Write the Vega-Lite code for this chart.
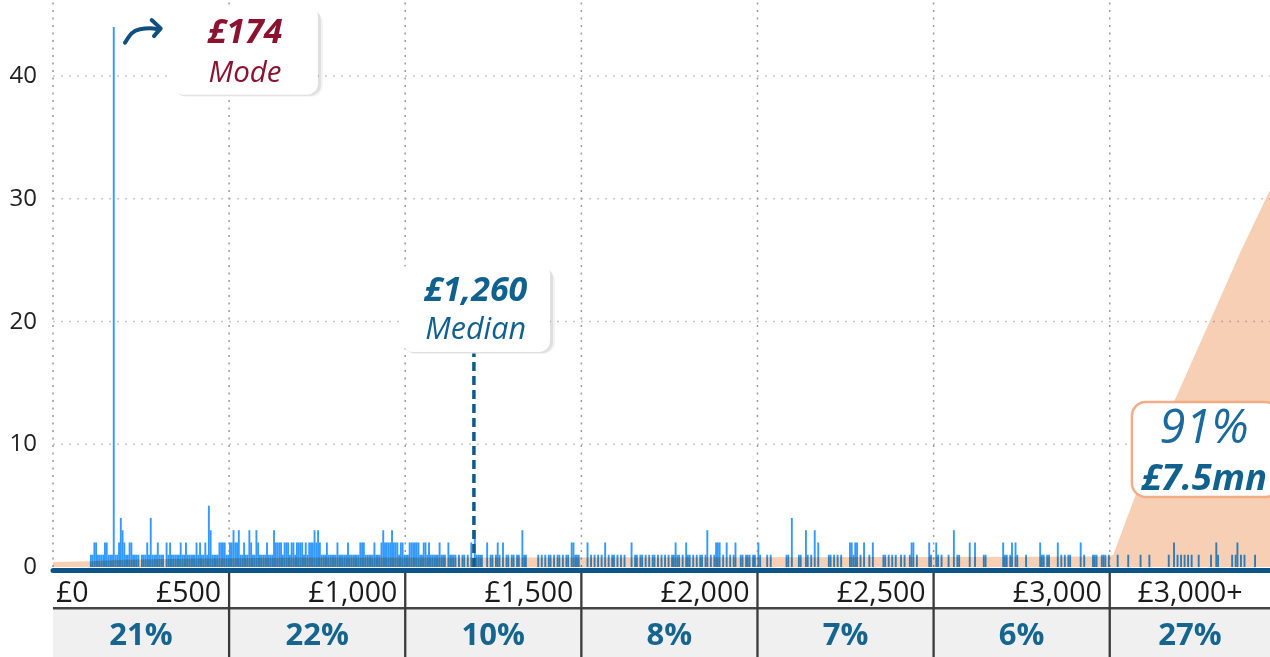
{
  "$schema": "https://vega.github.io/schema/vega-lite/v6.json",
  "width": 1270,
  "height": 657,
  "autosize": {"type": "none"},
  "padding": 0,
  "background": "white",
  "config": {"view": {"stroke": null}, "font": "Open Sans"},
  "datasets": {
    "grid": [{"g": 0}, {"g": 500}, {"g": 1000}, {"g": 1500}, {"g": 2000}, {"g": 2500}, {"g": 3000}],
    "yticks": [{"v": 0}, {"v": 10}, {"v": 20}, {"v": 30}, {"v": 40}],
    "bins": [
      {"b":105,"n":1},{"b":110,"n":1},{"b":115,"n":2},{"b":120,"n":2},{"b":125,"n":1},{"b":130,"n":1},{"b":135,"n":1},{"b":140,"n":1},{"b":145,"n":2},{"b":150,"n":2},{"b":155,"n":1},{"b":160,"n":1},{"b":165,"n":1},{"b":170,"n":44},{"b":175,"n":1},{"b":180,"n":1},{"b":185,"n":2},{"b":190,"n":4},{"b":195,"n":3},{"b":200,"n":2},{"b":205,"n":1},{"b":210,"n":1},{"b":215,"n":2},{"b":220,"n":2},{"b":225,"n":1},{"b":230,"n":1},{"b":235,"n":1},{"b":240,"n":1},{"b":250,"n":1},{"b":255,"n":1},{"b":260,"n":1},{"b":265,"n":2},{"b":270,"n":1},{"b":275,"n":4},{"b":280,"n":1},{"b":285,"n":1},{"b":290,"n":1},{"b":295,"n":2},{"b":300,"n":1},{"b":305,"n":1},{"b":310,"n":1},{"b":320,"n":2},{"b":325,"n":1},{"b":330,"n":2},{"b":335,"n":1},{"b":340,"n":1},{"b":345,"n":1},{"b":350,"n":1},{"b":355,"n":1},{"b":360,"n":2},{"b":365,"n":1},{"b":370,"n":1},{"b":375,"n":2},{"b":380,"n":1},{"b":385,"n":1},{"b":390,"n":1},{"b":395,"n":1},{"b":400,"n":1},{"b":405,"n":2},{"b":410,"n":1},{"b":415,"n":2},{"b":420,"n":1},{"b":425,"n":1},{"b":430,"n":2},{"b":435,"n":1},{"b":440,"n":5},{"b":445,"n":3},{"b":450,"n":1},{"b":455,"n":1},{"b":460,"n":1},{"b":465,"n":1},{"b":470,"n":2},{"b":475,"n":2},{"b":480,"n":2},{"b":485,"n":2},{"b":490,"n":1},{"b":495,"n":1},
      {"b":500,"n":2},{"b":505,"n":2},{"b":510,"n":3},{"b":515,"n":2},{"b":520,"n":2},{"b":525,"n":3},{"b":530,"n":1},{"b":535,"n":1},{"b":540,"n":2},{"b":545,"n":1},{"b":550,"n":1},{"b":555,"n":3},{"b":560,"n":2},{"b":565,"n":1},{"b":570,"n":1},{"b":575,"n":3},{"b":580,"n":2},{"b":585,"n":1},{"b":590,"n":1},{"b":595,"n":1},{"b":600,"n":1},{"b":605,"n":2},{"b":610,"n":1},{"b":615,"n":1},{"b":620,"n":1},{"b":625,"n":3},{"b":630,"n":2},{"b":635,"n":2},{"b":640,"n":2},{"b":645,"n":2},{"b":650,"n":1},{"b":655,"n":2},{"b":660,"n":2},{"b":665,"n":2},{"b":670,"n":1},{"b":675,"n":2},{"b":680,"n":2},{"b":685,"n":1},{"b":690,"n":2},{"b":695,"n":2},{"b":700,"n":2},{"b":705,"n":2},{"b":710,"n":1},{"b":715,"n":2},{"b":720,"n":1},{"b":725,"n":2},{"b":730,"n":2},{"b":735,"n":2},{"b":740,"n":3},{"b":745,"n":2},{"b":750,"n":3},{"b":755,"n":2},{"b":760,"n":1},{"b":765,"n":1},{"b":770,"n":1},{"b":775,"n":2},{"b":780,"n":1},{"b":785,"n":1},{"b":790,"n":1},{"b":795,"n":1},{"b":800,"n":1},{"b":805,"n":2},{"b":810,"n":1},{"b":815,"n":1},{"b":820,"n":1},{"b":825,"n":1},{"b":830,"n":1},{"b":835,"n":2},{"b":840,"n":1},{"b":845,"n":1},{"b":850,"n":1},{"b":855,"n":1},{"b":860,"n":1},{"b":865,"n":1},{"b":870,"n":2},{"b":875,"n":2},{"b":880,"n":2},{"b":885,"n":1},{"b":890,"n":1},{"b":895,"n":1},{"b":900,"n":1},{"b":905,"n":1},{"b":910,"n":2},{"b":915,"n":1},{"b":920,"n":1},{"b":925,"n":1},{"b":930,"n":2},{"b":935,"n":3},{"b":940,"n":2},{"b":945,"n":2},{"b":950,"n":2},{"b":955,"n":2},{"b":960,"n":3},{"b":965,"n":2},{"b":970,"n":2},{"b":975,"n":2},{"b":980,"n":1},{"b":985,"n":2},{"b":990,"n":2},{"b":995,"n":1},
      {"b":1000,"n":1},{"b":1005,"n":1},{"b":1010,"n":2},{"b":1015,"n":2},{"b":1020,"n":2},{"b":1025,"n":2},{"b":1030,"n":2},{"b":1035,"n":2},{"b":1040,"n":1},{"b":1045,"n":1},{"b":1050,"n":2},{"b":1055,"n":2},{"b":1060,"n":1},{"b":1065,"n":2},{"b":1070,"n":1},{"b":1075,"n":1},{"b":1080,"n":1},{"b":1085,"n":1},{"b":1090,"n":1},{"b":1095,"n":2},{"b":1100,"n":1},{"b":1105,"n":1},{"b":1110,"n":1},{"b":1120,"n":2},{"b":1125,"n":1},{"b":1130,"n":1},{"b":1135,"n":1},{"b":1140,"n":1},{"b":1150,"n":1},{"b":1160,"n":1},{"b":1165,"n":1},{"b":1175,"n":1},{"b":1185,"n":2},{"b":1195,"n":3},{"b":1200,"n":1},{"b":1205,"n":1},{"b":1210,"n":1},{"b":1215,"n":1},{"b":1230,"n":2},{"b":1240,"n":1},{"b":1245,"n":1},{"b":1255,"n":1},{"b":1260,"n":2},{"b":1265,"n":1},{"b":1275,"n":2},{"b":1285,"n":1},{"b":1290,"n":1},{"b":1300,"n":1},{"b":1305,"n":1},{"b":1315,"n":1},{"b":1320,"n":1},{"b":1330,"n":3},{"b":1335,"n":1},{"b":1340,"n":1},{"b":1375,"n":1},{"b":1385,"n":1},{"b":1395,"n":1},{"b":1405,"n":1},{"b":1410,"n":1},{"b":1420,"n":1},{"b":1430,"n":1},{"b":1435,"n":1},{"b":1445,"n":1},{"b":1455,"n":1},{"b":1460,"n":1},{"b":1470,"n":2},{"b":1475,"n":2},{"b":1480,"n":1},{"b":1485,"n":1},{"b":1490,"n":1},
      {"b":1515,"n":2},{"b":1525,"n":1},{"b":1535,"n":1},{"b":1545,"n":1},{"b":1555,"n":1},{"b":1565,"n":2},{"b":1575,"n":1},{"b":1585,"n":1},{"b":1590,"n":1},{"b":1600,"n":1},{"b":1610,"n":1},{"b":1620,"n":1},{"b":1640,"n":2},{"b":1650,"n":1},{"b":1655,"n":1},{"b":1665,"n":1},{"b":1670,"n":1},{"b":1680,"n":1},{"b":1690,"n":1},{"b":1700,"n":1},{"b":1705,"n":1},{"b":1715,"n":1},{"b":1725,"n":1},{"b":1735,"n":1},{"b":1745,"n":1},{"b":1755,"n":1},{"b":1760,"n":1},{"b":1765,"n":2},{"b":1770,"n":1},{"b":1775,"n":1},{"b":1785,"n":1},{"b":1795,"n":2},{"b":1800,"n":1},{"b":1805,"n":1},{"b":1815,"n":1},{"b":1825,"n":1},{"b":1835,"n":1},{"b":1840,"n":1},{"b":1850,"n":1},{"b":1855,"n":3},{"b":1865,"n":1},{"b":1875,"n":1},{"b":1880,"n":2},{"b":1885,"n":2},{"b":1890,"n":2},{"b":1900,"n":1},{"b":1910,"n":2},{"b":1920,"n":1},{"b":1930,"n":1},{"b":1935,"n":2},{"b":1950,"n":1},{"b":1955,"n":1},{"b":1965,"n":1},{"b":1970,"n":1},{"b":1975,"n":1},{"b":1985,"n":1},{"b":1990,"n":1},
      {"b":2000,"n":2},{"b":2005,"n":1},{"b":2025,"n":1},{"b":2035,"n":1},{"b":2080,"n":1},{"b":2085,"n":1},{"b":2095,"n":4},{"b":2115,"n":1},{"b":2120,"n":1},{"b":2135,"n":3},{"b":2140,"n":1},{"b":2150,"n":1},{"b":2160,"n":3},{"b":2170,"n":2},{"b":2200,"n":1},{"b":2205,"n":1},{"b":2215,"n":1},{"b":2225,"n":1},{"b":2235,"n":1},{"b":2260,"n":2},{"b":2265,"n":2},{"b":2270,"n":1},{"b":2275,"n":2},{"b":2280,"n":2},{"b":2290,"n":1},{"b":2300,"n":2},{"b":2315,"n":1},{"b":2325,"n":2},{"b":2355,"n":1},{"b":2360,"n":1},{"b":2370,"n":1},{"b":2380,"n":1},{"b":2390,"n":1},{"b":2405,"n":1},{"b":2415,"n":1},{"b":2430,"n":1},{"b":2435,"n":2},{"b":2440,"n":2},{"b":2450,"n":1},{"b":2485,"n":2},{"b":2490,"n":1},
      {"b":2505,"n":2},{"b":2510,"n":1},{"b":2520,"n":1},{"b":2540,"n":1},{"b":2555,"n":3},{"b":2565,"n":1},{"b":2570,"n":1},{"b":2600,"n":2},{"b":2615,"n":2},{"b":2640,"n":1},{"b":2645,"n":1},{"b":2695,"n":2},{"b":2700,"n":1},{"b":2705,"n":1},{"b":2715,"n":1},{"b":2720,"n":2},{"b":2730,"n":2},{"b":2735,"n":1},{"b":2760,"n":1},{"b":2800,"n":2},{"b":2805,"n":1},{"b":2810,"n":1},{"b":2820,"n":1},{"b":2825,"n":1},{"b":2850,"n":2},{"b":2860,"n":1},{"b":2870,"n":1},{"b":2880,"n":1},{"b":2885,"n":1},{"b":2915,"n":2},{"b":2925,"n":1},{"b":2950,"n":1},{"b":2955,"n":1},{"b":2960,"n":1},{"b":2975,"n":1},{"b":2980,"n":1},{"b":2985,"n":1},{"b":2995,"n":1},
      {"b":3020,"n":1},{"b":3050,"n":1},{"b":3085,"n":1},{"b":3110,"n":1},{"b":3165,"n":1},{"b":3180,"n":2},{"b":3190,"n":1},{"b":3200,"n":1},{"b":3210,"n":1},{"b":3220,"n":1},{"b":3230,"n":1},{"b":3250,"n":1},{"b":3285,"n":1},{"b":3300,"n":2},{"b":3305,"n":1},{"b":3345,"n":1},{"b":3355,"n":1},{"b":3360,"n":2},{"b":3370,"n":1},{"b":3380,"n":1},{"b":3410,"n":1}
    ],
    "share": [
      {"m": 0, "v": 0.42}, {"m": 100, "v": 0.48}, {"m": 200, "v": 0.6}, {"m": 400, "v": 0.7}, {"m": 700, "v": 0.77}, {"m": 1000, "v": 0.78}, {"m": 2000, "v": 0.8}, {"m": 2995, "v": 0.86},
      {"m": 3010, "v": 1.0}, {"m": 3074, "v": 5.9}, {"m": 3180, "v": 13.3}, {"m": 3284, "v": 20.0}, {"m": 3370, "v": 25.6}, {"m": 3443, "v": 30.0}, {"m": 3455, "v": 30.7}
    ],
    "labels": [
      {"t": "£0", "x": 0, "k": "left"},
      {"t": "£500", "x": 500, "k": "right"},
      {"t": "£1,000", "x": 1000, "k": "right"},
      {"t": "£1,500", "x": 1500, "k": "right"},
      {"t": "£2,000", "x": 2000, "k": "right"},
      {"t": "£2,500", "x": 2500, "k": "right"},
      {"t": "£3,000", "x": 3000, "k": "right"},
      {"t": "£3,000+", "x": 3228, "k": "center"}
    ],
    "pct": [
      {"p": "21%", "c": 250}, {"p": "22%", "c": 750}, {"p": "10%", "c": 1250}, {"p": "8%", "c": 1750},
      {"p": "7%", "c": 2250}, {"p": "6%", "c": 2750}, {"p": "27%", "c": 3228}
    ],
    "boxes": [
      {"k": "mode", "x1": 338, "x2": 752, "y1": 38.47, "y2": 45.8},
      {"k": "median", "x1": 991, "x2": 1411, "y1": 17.52, "y2": 24.78}
    ],
    "sharebox": [{"x1": 3063, "x2": 3480, "y1": 5.7, "y2": 13.45}],
    "notes": [
      {"t": "£174", "x": 545, "y": 42.72, "k": "modeval"},
      {"t": "Mode", "x": 545, "y": 39.5, "k": "modelab"},
      {"t": "£1,260", "x": 1200, "y": 21.66, "k": "medval"},
      {"t": "Median", "x": 1200, "y": 18.6, "k": "medlab"},
      {"t": "91%", "x": 3268, "y": 10.08, "k": "sharepct"},
      {"t": "£7.5mn", "x": 3268, "y": 6.28, "k": "shareval"}
    ],
    "median": [{"m": 1195, "bot": 0, "top": 17.4}],
    "band": [{"a": 0, "b": 3455}],
    "arrow": [
      {"s": "curve", "o": 1, "x": 204.4, "y": 42.72},
      {"s": "curve", "o": 2, "x": 223.4, "y": 43.48},
      {"s": "curve", "o": 3, "x": 247.0, "y": 43.81},
      {"s": "curve", "o": 4, "x": 275.4, "y": 43.89},
      {"s": "curve", "o": 5, "x": 298.9, "y": 43.81},
      {"s": "head", "o": 1, "x": 280.2, "y": 44.57},
      {"s": "head", "o": 2, "x": 305.8, "y": 43.89},
      {"s": "head", "o": 3, "x": 286.7, "y": 43.26}
    ]
  },
  "layer": [
    {
      "data": {"name": "yticks"},
      "transform": [{"filter": "datum.v > 0"}],
      "mark": {"type": "rule", "color": "#c8c8c8", "strokeDash": [2, 6], "strokeWidth": 1.5},
      "encoding": {
        "x": {"datum": 0, "type": "quantitative", "scale": {"domain": [-150.4, 3455], "nice": false, "zero": false, "padding": 0}, "axis": null},
        "x2": {"datum": 3455},
        "y": {"field": "v", "type": "quantitative", "scale": {"domain": [-7.33, 46.2], "nice": false, "zero": false, "padding": 0}, "axis": null}
      }
    },
    {
      "data": {"name": "yticks"},
      "mark": {"type": "text", "align": "right", "baseline": "middle", "dx": -16, "fontSize": 24, "color": "#222222", "font": "Open Sans"},
      "encoding": {
        "x": {"datum": 0, "type": "quantitative", "axis": null},
        "y": {"field": "v", "type": "quantitative", "axis": null},
        "text": {"field": "v", "type": "quantitative"}
      }
    },
    {
      "data": {"name": "grid"},
      "mark": {"type": "rule", "color": "#9a9a9a", "strokeDash": [2, 5.5], "strokeWidth": 1.5},
      "encoding": {
        "x": {"field": "g", "type": "quantitative", "axis": null},
        "y": {"datum": 0, "type": "quantitative", "axis": null},
        "y2": {"datum": 46.2}
      }
    },
    {
      "data": {"name": "bins"},
      "mark": {"type": "bar", "color": "#3399ff", "width": 1.9, "xOffset": 0.9},
      "encoding": {
        "x": {"field": "b", "type": "quantitative", "axis": null},
        "y": {"field": "n", "type": "quantitative", "axis": null}
      }
    },
    {
      "data": {"name": "share"},
      "mark": {"type": "area", "color": "#f7cfb4", "blend": "multiply", "opacity": 1},
      "encoding": {
        "x": {"field": "m", "type": "quantitative", "axis": null},
        "y": {"field": "v", "type": "quantitative", "axis": null}
      }
    },
    {
      "data": {"name": "band"},
      "mark": {"type": "rect", "color": "#f0f0f0"},
      "encoding": {
        "x": {"field": "a", "type": "quantitative", "axis": null},
        "x2": {"field": "b"},
        "y": {"datum": -3.45, "type": "quantitative", "axis": null},
        "y2": {"datum": -7.33}
      }
    },
    {
      "data": {"name": "band"},
      "mark": {"type": "rule", "color": "#444444", "strokeWidth": 2.5},
      "encoding": {
        "x": {"field": "a", "type": "quantitative", "axis": null},
        "x2": {"field": "b"},
        "y": {"datum": -3.36, "type": "quantitative", "axis": null}
      }
    },
    {
      "data": {"name": "grid"},
      "transform": [{"filter": "datum.g > 0"}],
      "mark": {"type": "rule", "color": "#3a3a3a", "strokeWidth": 2.3},
      "encoding": {
        "x": {"field": "g", "type": "quantitative", "axis": null},
        "y": {"datum": -0.45, "type": "quantitative", "axis": null},
        "y2": {"datum": -7.33}
      }
    },
    {
      "data": {"name": "band"},
      "mark": {"type": "rule", "color": "#0d5487", "strokeWidth": 5, "strokeCap": "round"},
      "encoding": {
        "x": {"field": "a", "type": "quantitative", "axis": null},
        "x2": {"field": "b"},
        "y": {"datum": -0.28, "type": "quantitative", "axis": null}
      }
    },
    {
      "data": {"name": "median"},
      "mark": {"type": "rule", "color": "#0f5a8a", "strokeWidth": 3.5, "strokeDash": [9, 5]},
      "encoding": {
        "x": {"field": "m", "type": "quantitative", "axis": null},
        "y": {"field": "bot", "type": "quantitative", "axis": null},
        "y2": {"field": "top"}
      }
    },
    {
      "data": {"name": "labels"},
      "transform": [{"filter": "datum.k == 'left'"}],
      "mark": {"type": "text", "align": "left", "baseline": "alphabetic", "dx": 3, "fontSize": 28.5, "color": "#1a1a1a", "font": "Open Sans"},
      "encoding": {
        "x": {"field": "x", "type": "quantitative", "axis": null},
        "y": {"datum": -2.83, "type": "quantitative", "axis": null},
        "text": {"field": "t"}
      }
    },
    {
      "data": {"name": "labels"},
      "transform": [{"filter": "datum.k == 'right'"}],
      "mark": {"type": "text", "align": "right", "baseline": "alphabetic", "dx": -8, "fontSize": 28.5, "color": "#1a1a1a", "font": "Open Sans"},
      "encoding": {
        "x": {"field": "x", "type": "quantitative", "axis": null},
        "y": {"datum": -2.83, "type": "quantitative", "axis": null},
        "text": {"field": "t"}
      }
    },
    {
      "data": {"name": "labels"},
      "transform": [{"filter": "datum.k == 'center'"}],
      "mark": {"type": "text", "align": "center", "baseline": "alphabetic", "fontSize": 28.5, "color": "#1a1a1a", "font": "Open Sans"},
      "encoding": {
        "x": {"field": "x", "type": "quantitative", "axis": null},
        "y": {"datum": -2.83, "type": "quantitative", "axis": null},
        "text": {"field": "t"}
      }
    },
    {
      "data": {"name": "pct"},
      "mark": {"type": "text", "align": "center", "baseline": "alphabetic", "fontSize": 31, "fontWeight": "bold", "color": "#15658f", "font": "Open Sans"},
      "encoding": {
        "x": {"field": "c", "type": "quantitative", "axis": null},
        "y": {"datum": -6.36, "type": "quantitative", "axis": null},
        "text": {"field": "p"}
      }
    },
    {
      "data": {"name": "boxes"},
      "mark": {"type": "rect", "color": "#000000", "opacity": 0.05, "cornerRadius": 12, "xOffset": 2, "x2Offset": 5, "yOffset": 2, "y2Offset": 6},
      "encoding": {
        "x": {"field": "x1", "type": "quantitative", "axis": null},
        "x2": {"field": "x2"},
        "y": {"field": "y1", "type": "quantitative", "axis": null},
        "y2": {"field": "y2"}
      }
    },
    {
      "data": {"name": "boxes"},
      "mark": {"type": "rect", "color": "#000000", "opacity": 0.08, "cornerRadius": 11, "xOffset": 1, "x2Offset": 3, "yOffset": 1, "y2Offset": 4},
      "encoding": {
        "x": {"field": "x1", "type": "quantitative", "axis": null},
        "x2": {"field": "x2"},
        "y": {"field": "y1", "type": "quantitative", "axis": null},
        "y2": {"field": "y2"}
      }
    },
    {
      "data": {"name": "boxes"},
      "mark": {"type": "rect", "color": "#ffffff", "cornerRadius": 11},
      "encoding": {
        "x": {"field": "x1", "type": "quantitative", "axis": null},
        "x2": {"field": "x2"},
        "y": {"field": "y1", "type": "quantitative", "axis": null},
        "y2": {"field": "y2"}
      }
    },
    {
      "data": {"name": "sharebox"},
      "mark": {"type": "rect", "fill": "#ffffff", "stroke": "#f2ad86", "strokeWidth": 2.5, "cornerRadius": 14, "clip": true},
      "encoding": {
        "x": {"field": "x1", "type": "quantitative", "axis": null},
        "x2": {"field": "x2"},
        "y": {"field": "y1", "type": "quantitative", "axis": null},
        "y2": {"field": "y2"}
      }
    },
    {
      "data": {"name": "notes"},
      "transform": [{"filter": "datum.k == 'modeval'"}],
      "mark": {"type": "text", "align": "center", "baseline": "alphabetic", "fontSize": 34, "fontWeight": "bold", "fontStyle": "italic", "color": "#8b1330", "font": "Open Sans"},
      "encoding": {
        "x": {"field": "x", "type": "quantitative", "axis": null},
        "y": {"field": "y", "type": "quantitative", "axis": null},
        "text": {"field": "t"}
      }
    },
    {
      "data": {"name": "notes"},
      "transform": [{"filter": "datum.k == 'modelab'"}],
      "mark": {"type": "text", "align": "center", "baseline": "alphabetic", "fontSize": 29.5, "fontStyle": "italic", "color": "#8b1330", "font": "Open Sans"},
      "encoding": {
        "x": {"field": "x", "type": "quantitative", "axis": null},
        "y": {"field": "y", "type": "quantitative", "axis": null},
        "text": {"field": "t"}
      }
    },
    {
      "data": {"name": "notes"},
      "transform": [{"filter": "datum.k == 'medval'"}],
      "mark": {"type": "text", "align": "center", "baseline": "alphabetic", "fontSize": 34, "fontWeight": "bold", "fontStyle": "italic", "color": "#11618f", "font": "Open Sans"},
      "encoding": {
        "x": {"field": "x", "type": "quantitative", "axis": null},
        "y": {"field": "y", "type": "quantitative", "axis": null},
        "text": {"field": "t"}
      }
    },
    {
      "data": {"name": "notes"},
      "transform": [{"filter": "datum.k == 'shareval'"}],
      "mark": {"type": "text", "align": "center", "baseline": "alphabetic", "fontSize": 36.5, "fontWeight": "bold", "fontStyle": "italic", "color": "#11618f", "font": "Open Sans"},
      "encoding": {
        "x": {"field": "x", "type": "quantitative", "axis": null},
        "y": {"field": "y", "type": "quantitative", "axis": null},
        "text": {"field": "t"}
      }
    },
    {
      "data": {"name": "notes"},
      "transform": [{"filter": "datum.k == 'medlab'"}],
      "mark": {"type": "text", "align": "center", "baseline": "alphabetic", "fontSize": 30.5, "fontStyle": "italic", "color": "#11618f", "font": "Open Sans"},
      "encoding": {
        "x": {"field": "x", "type": "quantitative", "axis": null},
        "y": {"field": "y", "type": "quantitative", "axis": null},
        "text": {"field": "t"}
      }
    },
    {
      "data": {"name": "notes"},
      "transform": [{"filter": "datum.k == 'sharepct'"}],
      "mark": {"type": "text", "align": "center", "baseline": "alphabetic", "fontSize": 47, "fontStyle": "italic", "color": "#1a6a9e", "font": "Open Sans"},
      "encoding": {
        "x": {"field": "x", "type": "quantitative", "axis": null},
        "y": {"field": "y", "type": "quantitative", "axis": null},
        "text": {"field": "t"}
      }
    },
    {
      "data": {"name": "arrow"},
      "transform": [{"filter": "datum.s == 'curve'"}],
      "mark": {"type": "line", "color": "#0f4f80", "strokeWidth": 4, "strokeCap": "round", "interpolate": "monotone"},
      "encoding": {
        "x": {"field": "x", "type": "quantitative", "axis": null},
        "y": {"field": "y", "type": "quantitative", "axis": null},
        "order": {"field": "o"}
      }
    },
    {
      "data": {"name": "arrow"},
      "transform": [{"filter": "datum.s == 'head'"}],
      "mark": {"type": "line", "color": "#0f4f80", "strokeWidth": 4, "strokeCap": "round", "strokeJoin": "round"},
      "encoding": {
        "x": {"field": "x", "type": "quantitative", "axis": null},
        "y": {"field": "y", "type": "quantitative", "axis": null},
        "order": {"field": "o"}
      }
    }
  ]
}
